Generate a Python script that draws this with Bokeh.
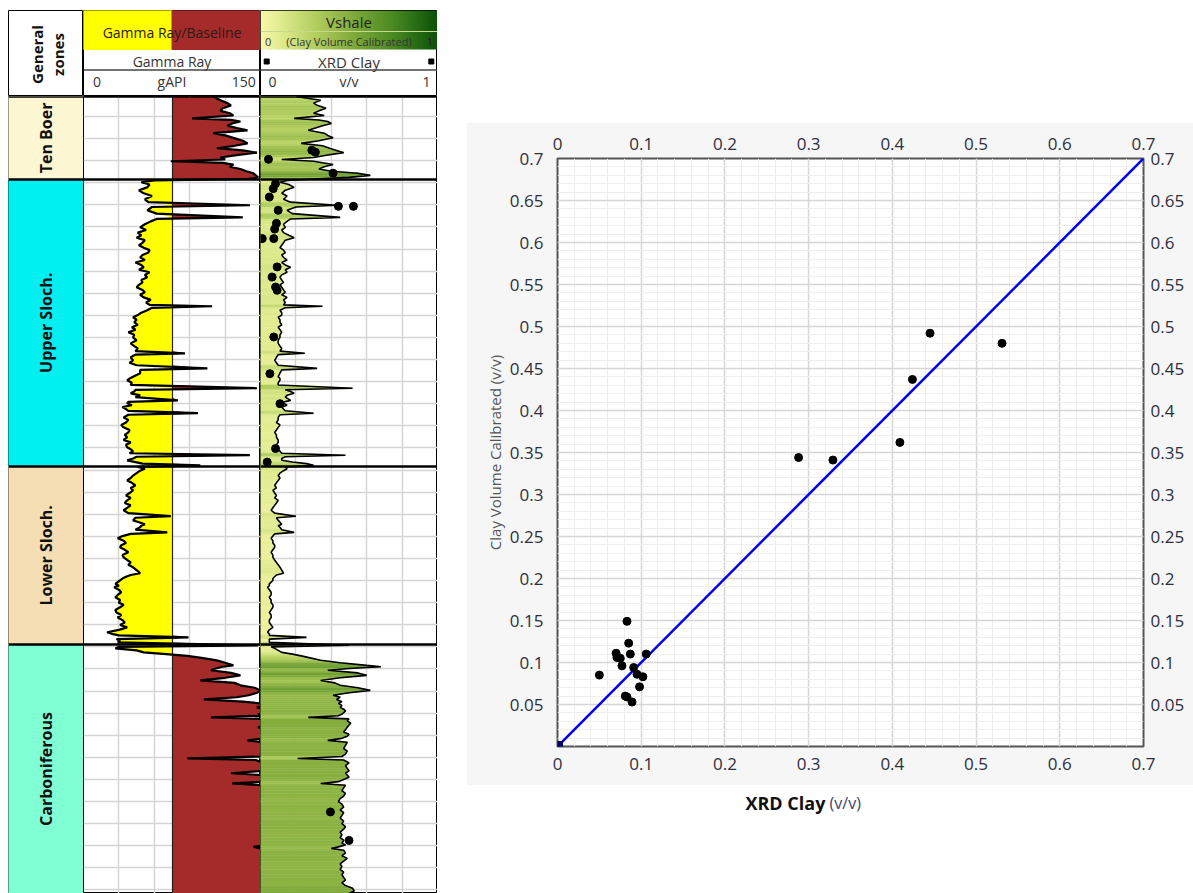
import numpy as np
from bokeh.plotting import figure
from bokeh.layouts import row, column
from bokeh.models import FixedTicker, CustomJSTickFormatter, LinearAxis, Range1d, Spacer, LinearColorMapper
from bokeh.core.properties import value
from bokeh.embed import file_html
from bokeh.resources import INLINE

FONT = "Open Sans"

# ---------------- data ----------------
ZONE_NAMES = ["Ten Boer", "Upper Sloch.", "Lower Sloch.", "Carboniferous"]
ZONE_TOPS = [3001.0, 3038.5, 3168.3, 3248.9]
ZONE_BASES = [3038.5, 3168.3, 3248.9, 3361.6]
ZONE_COLORS = ["#fdf6d2", "#00eff0", "#f5deb3", "#80ffd4"]

GR_MIN, GR_MAX, GR_BASELINE = 0, 150, 75
GR_GRID = [30, 60, 90, 120]
VSH_GRID = [0.2, 0.4, 0.6, 0.8]
DEPTH_GRID = list(range(3010, 3361, 10))

DEPTH = [
    3001.0, 3002.7, 3004.0, 3005.0, 3006.3, 3007.5, 3008.6, 3009.6, 3010.9, 3011.6,
    3012.3, 3013.2, 3014.2, 3015.3, 3016.3, 3017.6, 3018.6, 3019.7, 3021.0, 3022.2,
    3023.3, 3024.4, 3025.4, 3026.4, 3027.5, 3028.6, 3029.5, 3030.3, 3031.0, 3031.8,
    3032.8, 3033.8, 3034.8, 3035.7, 3036.7, 3037.6, 3038.3, 3039.0,
    3039.8, 3040.8, 3042.1, 3043.4, 3044.8, 3046.0, 3047.5, 3048.8, 3050.2, 3051.0,
    3052.5, 3054.0, 3055.7, 3056.4, 3057.5, 3058.8, 3060.2, 3061.4, 3062.6, 3063.8,
    3064.9, 3066.0, 3067.2, 3068.3, 3069.4, 3070.5, 3071.6, 3072.7, 3073.8, 3075.0,
    3076.1, 3077.2, 3078.3, 3079.4, 3080.5, 3081.7, 3082.8, 3084.0, 3085.1, 3086.2,
    3087.3, 3088.5, 3089.6, 3090.7, 3091.9, 3093.0, 3094.2, 3095.3, 3095.9, 3096.6,
    3097.7, 3098.8, 3099.9, 3100.9, 3102.0, 3103.1, 3104.3, 3105.4, 3106.5, 3107.7,
    3108.8, 3110.0, 3111.3, 3112.7, 3113.9, 3115.0, 3116.2, 3117.2, 3117.8, 3119.0,
    3120.4, 3121.5, 3122.6, 3124.0, 3124.7, 3126.2, 3127.8, 3128.6, 3129.4, 3130.5,
    3131.5, 3133.0, 3133.7, 3134.5, 3135.3, 3136.2, 3137.0, 3138.5, 3139.2, 3139.8,
    3140.7, 3141.5, 3142.4, 3143.2, 3144.3, 3145.0, 3146.2, 3147.3, 3148.5, 3149.6,
    3150.7, 3151.9, 3153.0, 3154.1, 3155.2, 3156.4, 3157.5, 3158.6, 3159.7, 3160.6,
    3161.5, 3162.4, 3163.3, 3164.0, 3164.8, 3165.6, 3166.4, 3167.1, 3167.9, 3168.6,
    3169.4, 3170.3, 3171.4, 3172.5, 3173.6, 3174.7, 3175.8, 3177.0, 3178.1, 3179.2,
    3180.4, 3181.5, 3182.6, 3183.7, 3184.9, 3186.0, 3187.1, 3188.2, 3189.5, 3190.9,
    3191.6, 3192.8, 3193.6, 3194.5, 3195.2, 3195.9, 3197.0, 3198.2, 3198.9, 3199.9,
    3200.9, 3202.0, 3203.0, 3204.0, 3205.0, 3206.1, 3207.2, 3208.4, 3209.5, 3210.7,
    3211.8, 3212.9, 3214.0, 3215.3, 3216.7, 3217.5, 3218.3, 3219.1, 3219.9, 3220.7,
    3221.5, 3222.3, 3223.1, 3224.2, 3225.3, 3226.5, 3227.6, 3228.8, 3230.0, 3231.0,
    3232.1, 3233.3, 3234.5, 3235.6, 3236.7, 3237.9, 3239.0, 3240.1, 3241.2, 3242.3,
    3243.4, 3244.1, 3244.8, 3245.7, 3246.5, 3247.3, 3248.0, 3249.3, 3250.0, 3250.7,
    3251.6, 3252.5, 3253.3,
    3254.1, 3255.0, 3256.1, 3257.2, 3258.4, 3259.0, 3259.8, 3260.6, 3261.8, 3262.9,
    3264.0, 3265.2, 3266.3, 3267.4, 3268.5, 3269.7, 3270.8, 3271.9, 3272.8, 3273.8,
    3274.8, 3275.6, 3276.5, 3277.4, 3278.2, 3279.0, 3279.8, 3280.5, 3281.2, 3281.9,
    3282.6, 3283.5, 3284.5, 3285.4, 3286.4, 3287.5, 3288.5, 3289.5, 3290.5, 3291.4,
    3292.3, 3293.2, 3294.6, 3296.0, 3297.2, 3298.5, 3299.6, 3300.5, 3301.2, 3302.5,
    3303.7, 3305.0, 3306.1, 3307.2, 3308.0, 3309.0, 3310.0, 3311.0, 3311.8, 3312.6,
    3313.8, 3315.0, 3316.3, 3317.5, 3318.7, 3320.0, 3321.2, 3322.5, 3323.8, 3325.0,
    3326.3, 3327.5, 3328.8, 3330.0, 3331.3, 3332.5, 3333.8, 3335.0, 3336.3, 3337.5,
    3338.9, 3339.6, 3340.5, 3341.2, 3342.0, 3343.3, 3344.5, 3345.7, 3347.0, 3348.2,
    3349.4, 3350.7, 3351.9, 3353.1, 3354.3, 3355.5, 3356.8, 3358.0, 3359.2, 3360.4,
    3361.6,
]

GR = [
    110, 116, 122, 125, 118, 116, 124, 127, 92, 125,
    133, 126, 122, 130, 139, 110, 120, 127, 135, 139,
    128, 113, 135, 147, 130, 116, 120, 74, 118, 127,
    124, 133, 138, 144, 146, 148, 140, 60,
    49, 56, 54, 47, 51, 58, 52, 55, 141, 58,
    54, 62, 135, 62, 57, 52, 48, 53, 46, 49,
    45, 52, 50, 47, 51, 56, 55, 50, 48, 52,
    44, 49, 51, 47, 56, 52, 54, 49, 50, 47,
    45, 50, 52, 48, 51, 57, 53, 56, 109, 58,
    54, 49, 46, 42, 45, 43, 46, 41, 44, 38,
    43, 42, 45, 40, 43, 46, 44, 86, 44, 40,
    42, 39, 45, 105, 48, 48, 42, 39, 37, 41,
    40, 147, 44, 43, 40, 48, 44, 80, 38, 37,
    41, 33, 36, 38, 97, 38, 34, 38, 36, 32,
    34, 39, 38, 35, 37, 34, 40, 36, 37, 40,
    42, 39, 141, 45, 42, 37, 44, 50, 99, 46,
    52, 48, 45, 42, 40, 37, 41, 44, 40, 42,
    39, 36, 40, 37, 35, 40, 37, 34, 38, 74,
    44, 42, 47, 52, 49, 48, 44, 71, 40, 33,
    29, 34, 36, 32, 31, 35, 38, 33, 34, 37,
    40, 38, 42, 45, 48, 40, 36, 33, 31, 29,
    27, 30, 26, 30, 32, 29, 27, 31, 30, 34,
    31, 27, 28, 32, 29, 33, 35, 31, 37, 30,
    20, 24, 30, 89, 28, 31, 29, 148, 30, 27,
    45, 51, 70,
    88, 100, 113, 120, 127, 118, 112, 108, 125, 133,
    120, 99, 128, 133, 145, 150, 147, 140, 130, 102,
    135, 150, 152, 147, 153, 150, 152, 148, 151, 108,
    150, 153, 152, 155, 148, 153, 152, 154, 150, 153,
    139, 152, 155, 154, 152, 150, 153, 88, 146, 152,
    155, 154, 152, 125, 150, 153, 152, 154, 126, 152,
    155, 155, 153, 156, 153, 155, 156, 154, 155, 154,
    156, 155, 153, 155, 156, 154, 156, 155, 153, 156,
    152, 155, 144, 150, 154, 156, 155, 156, 154, 155,
    156, 154, 155, 156, 154, 155, 156, 154, 155, 156,
    155,
]

VSH = [
    0.20, 0.34, 0.30, 0.32, 0.37, 0.33, 0.30, 0.36, 0.19, 0.33,
    0.38, 0.40, 0.35, 0.31, 0.27, 0.36, 0.38, 0.41, 0.33, 0.23,
    0.35, 0.39, 0.43, 0.47, 0.38, 0.30, 0.12, 0.30, 0.35, 0.41,
    0.36, 0.33, 0.40, 0.55, 0.62, 0.50, 0.30, 0.15,
    0.11, 0.16, 0.19, 0.14, 0.12, 0.15, 0.13, 0.17, 0.43, 0.20,
    0.15, 0.18, 0.45, 0.17, 0.15, 0.13, 0.14, 0.12, 0.13, 0.16,
    0.19, 0.14, 0.13, 0.12, 0.11, 0.13, 0.14, 0.12, 0.13, 0.15,
    0.12, 0.14, 0.17, 0.14, 0.15, 0.12, 0.11, 0.12, 0.13, 0.11,
    0.12, 0.13, 0.14, 0.12, 0.15, 0.13, 0.14, 0.13, 0.35, 0.14,
    0.11, 0.12, 0.12, 0.10, 0.11, 0.11, 0.12, 0.10, 0.11, 0.12,
    0.11, 0.11, 0.10, 0.10, 0.11, 0.12, 0.11, 0.25, 0.10, 0.09,
    0.08, 0.09, 0.10, 0.32, 0.12, 0.11, 0.10, 0.11, 0.11, 0.10,
    0.10, 0.52, 0.14, 0.17, 0.19, 0.15, 0.14, 0.17, 0.13, 0.13,
    0.15, 0.12, 0.13, 0.14, 0.30, 0.11, 0.10, 0.10, 0.09, 0.11,
    0.10, 0.09, 0.08, 0.09, 0.09, 0.10, 0.10, 0.09, 0.09, 0.10,
    0.11, 0.12, 0.48, 0.14, 0.12, 0.12, 0.18, 0.26, 0.30, 0.14,
    0.15, 0.13, 0.11, 0.10, 0.11, 0.10, 0.09, 0.08, 0.09, 0.07,
    0.08, 0.09, 0.08, 0.10, 0.09, 0.08, 0.07, 0.06, 0.08, 0.20,
    0.09, 0.10, 0.11, 0.12, 0.10, 0.11, 0.12, 0.19, 0.08, 0.07,
    0.06, 0.07, 0.07, 0.08, 0.08, 0.07, 0.06, 0.07, 0.07, 0.08,
    0.09, 0.10, 0.11, 0.12, 0.13, 0.09, 0.08, 0.07, 0.07, 0.06,
    0.05, 0.05, 0.04, 0.05, 0.06, 0.06, 0.05, 0.06, 0.06, 0.07,
    0.07, 0.06, 0.05, 0.06, 0.06, 0.05, 0.05, 0.06, 0.07, 0.05,
    0.04, 0.05, 0.05, 0.26, 0.05, 0.05, 0.05, 0.50, 0.06, 0.08,
    0.10, 0.12, 0.18,
    0.23, 0.28, 0.34, 0.45, 0.60, 0.68, 0.50, 0.38, 0.55, 0.60,
    0.45, 0.34, 0.42, 0.45, 0.55, 0.62, 0.50, 0.41, 0.45, 0.43,
    0.46, 0.44, 0.46, 0.45, 0.47, 0.48, 0.47, 0.46, 0.44, 0.27,
    0.50, 0.49, 0.51, 0.50, 0.49, 0.48, 0.47, 0.50, 0.49, 0.46,
    0.38, 0.49, 0.48, 0.47, 0.49, 0.48, 0.46, 0.21, 0.47, 0.50,
    0.48, 0.49, 0.50, 0.48, 0.49, 0.50, 0.47, 0.44, 0.34, 0.48,
    0.47, 0.46, 0.48, 0.47, 0.45, 0.44, 0.46, 0.47, 0.45, 0.47,
    0.46, 0.45, 0.47, 0.46, 0.48, 0.47, 0.45, 0.46, 0.45, 0.47,
    0.46, 0.48, 0.44, 0.40, 0.47, 0.48, 0.46, 0.49, 0.47, 0.45,
    0.46, 0.45, 0.47, 0.46, 0.47, 0.48, 0.46, 0.48, 0.52, 0.53,
    0.50,
]

XRD_LOG_DEPTH = [3025.3, 3026.2, 3029.4, 3035.7, 3040.4, 3042.7, 3046.5, 3050.7, 3050.7,
                 3052.5, 3058.4, 3061.0, 3065.3, 3065.3, 3078.1, 3082.7, 3087.2, 3088.7,
                 3109.8, 3126.4, 3140.0, 3160.3, 3166.4, 3324.7, 3337.6]
XRD_LOG_VALUE = [0.29, 0.31, 0.045, 0.41, 0.085, 0.072, 0.05, 0.44, 0.525,
                 0.10, 0.09, 0.08, 0.01, 0.075, 0.094, 0.066, 0.085, 0.094,
                 0.075, 0.053, 0.11, 0.085, 0.038, 0.395, 0.50]

# crossplot
XRD_CLAY = [0.050, 0.070, 0.071, 0.075, 0.077, 0.081, 0.083, 0.083, 0.085, 0.087, 0.089,
            0.091, 0.095, 0.098, 0.102, 0.106, 0.288, 0.329, 0.409, 0.424, 0.445, 0.531]
CLAY_VOL_CAL = [0.085, 0.111, 0.106, 0.105, 0.096, 0.060, 0.149, 0.059, 0.123, 0.110, 0.053,
                0.094, 0.086, 0.071, 0.083, 0.110, 0.344, 0.341, 0.362, 0.437, 0.492, 0.480]
ONE_TO_ONE = [0.0, 0.7]
XP_TICKS_X = [0, 0.1, 0.2, 0.3, 0.4, 0.5, 0.6, 0.7]
XP_TICKS_Y = [0.05, 0.1, 0.15, 0.2, 0.25, 0.3, 0.35, 0.4, 0.45, 0.5, 0.55, 0.6, 0.65, 0.7]
XP_MINOR_X = [round(0.02 * i, 2) for i in range(36)]
XP_MINOR_Y = [round(0.01 * i, 2) for i in range(71)]

# ---------------- colours ----------------
_stops = [(0.0, (248, 248, 168)), (0.12, (223, 235, 142)), (0.3, (181, 208, 98)),
          (0.5, (134, 174, 62)), (0.75, (74, 138, 34)), (1.0, (10, 82, 10))]
_pos = [s[0] for s in _stops]
_t = np.linspace(0, 1, 256)
_ch = [np.interp(_t, _pos, [s[1][k] for s in _stops]) for k in range(3)]
PALETTE = ["#%02x%02x%02x" % (int(r), int(g), int(b)) for r, g, b in zip(*_ch)]


def txt(p, x, y, s, size, align="center", color="#333333", style="normal", angle=0.0):
    p.text(x=[x], y=[y], text=[s], text_align=align, text_baseline="middle",
           text_font=value(FONT), text_font_size=size, text_color=color,
           text_font_style=style, angle=angle)


def base_fig(w, h, xr, yr):
    f = figure(width=w, height=h, x_range=xr, y_range=yr, x_axis_location=None,
               y_axis_location=None, toolbar_location=None, output_backend="svg",
               min_border=0, title=None, outline_line_color="black", outline_line_width=1,
               background_fill_color="white", border_fill_color="white")
    return f


HDR_H, LOG_H = 86, 797
W_ZONE, W_TRACK = 75, 177
depth_range = Range1d(ZONE_BASES[-1], ZONE_TOPS[0])
hdr_range = Range1d(HDR_H, 0)

d = np.array(DEPTH)
gr = np.array(GR, dtype=float)
vsh = np.array(VSH)

# ---------------- headers ----------------
hz = base_fig(W_ZONE, HDR_H, Range1d(0, 1), hdr_range)
hz.grid.visible = False
txt(hz, 0.38, 44, "General", "15px", color="#111111", style="bold", angle=np.pi / 2)
txt(hz, 0.66, 44, "zones", "15px", color="#111111", style="bold", angle=np.pi / 2)

hg = base_fig(W_TRACK, HDR_H, Range1d(GR_MIN, GR_MAX), hdr_range)
hg.grid.visible = False
hg.quad(left=[GR_MIN], right=[GR_BASELINE], top=[0], bottom=[39], color="#ffff00")
hg.quad(left=[GR_BASELINE], right=[GR_MAX], top=[0], bottom=[39], color="#a52a2a")
txt(hg, 75, 22, "Gamma Ray/Baseline", "14px", color="#2a1a1a")
txt(hg, 75, 51, "Gamma Ray", "14px")
hg.segment(x0=[GR_MIN], x1=[GR_MAX], y0=[59.5], y1=[59.5], line_color="#444444", line_width=1.5)
txt(hg, 8, 71, "0", "14px", align="left")
txt(hg, 75, 71, "gAPI", "14px")
txt(hg, 146, 71, "150", "14px", align="right")

hv = base_fig(W_TRACK, HDR_H, Range1d(0, 1), hdr_range)
hv.grid.visible = False
hv.image(image=[np.linspace(0, 1, 256).reshape(1, -1)], x=0, y=0, dw=1, dh=39,
         color_mapper=LinearColorMapper(palette=PALETTE, low=0, high=1))
hv.segment(x0=[0], x1=[1], y0=[21], y1=[21], line_color="#c8d890", line_width=1)
txt(hv, 0.5, 11, "Vshale", "15px", color="#222222")
txt(hv, 0.025, 31, "0", "11px", align="left", color="#333333")
txt(hv, 0.5, 31, "(Clay Volume Calibrated)", "11px", color="#333333")
txt(hv, 0.975, 31, "1", "11px", align="right", color="#222222")
hv.scatter(x=[0.035, 0.965], y=[51, 51], marker="square", size=5, color="black")
txt(hv, 0.5, 51, "XRD Clay", "15px")
hv.segment(x0=[0], x1=[1], y0=[59.5], y1=[59.5], line_color="#444444", line_width=1.5)
txt(hv, 0.045, 71, "0", "14px", align="left")
txt(hv, 0.5, 71, "v/v", "14px")
txt(hv, 0.96, 71, "1", "14px", align="right")

# ---------------- log tracks ----------------
lz = base_fig(W_ZONE, LOG_H, Range1d(0, 1), depth_range)
lz.grid.visible = False
lz.quad(left=0, right=1, top=ZONE_TOPS, bottom=ZONE_BASES, color=ZONE_COLORS)
for name, t, b in zip(ZONE_NAMES, ZONE_TOPS, ZONE_BASES):
    txt(lz, 0.5, (t + b) / 2, name, "16px", color="#111111", style="bold", angle=np.pi / 2)

lg = base_fig(W_TRACK, LOG_H, Range1d(GR_MIN, GR_MAX), depth_range)
lg.xgrid.ticker = FixedTicker(ticks=GR_GRID)
lg.ygrid.ticker = FixedTicker(ticks=DEPTH_GRID)
lg.grid.grid_line_color = "#d4d4d4"
lg.grid.grid_line_width = 1.5
base = np.full(len(d), GR_BASELINE, dtype=float)
lg.harea(x1=np.minimum(gr, GR_BASELINE), x2=base, y=d, fill_color="#ffff00")
lg.harea(x1=base, x2=np.maximum(gr, GR_BASELINE), y=d, fill_color="#a52a2a")
lg.vspan(x=[GR_BASELINE], line_color="#222222", line_width=1.2)
lg.line(gr, d, line_color="black", line_width=2.2)

lv = base_fig(W_TRACK, LOG_H, Range1d(0, 1), depth_range)
lv.xgrid.ticker = FixedTicker(ticks=VSH_GRID)
lv.ygrid.ticker = FixedTicker(ticks=DEPTH_GRID)
lv.grid.grid_line_color = "#d4d4d4"
lv.grid.grid_line_width = 1.5
xs, ys, cols = [], [], []
for i in range(len(d) - 1):
    xs.append([0, vsh[i], vsh[i + 1], 0])
    ys.append([d[i], d[i], d[i + 1], d[i + 1]])
    cols.append(PALETTE[int(round((vsh[i] + vsh[i + 1]) / 2 * 255))])
lv.patches(xs, ys, fill_color=cols, line_color=cols, line_width=0.5)
lv.line(vsh, d, line_color="black", line_width=1.6)
lv.scatter(XRD_LOG_VALUE, XRD_LOG_DEPTH, size=8, color="black")

for f in (lz, lg, lv):
    f.hspan(y=ZONE_TOPS, line_color="black", line_width=2.5)

left_col = column(
    Spacer(width=437, height=10),
    row(Spacer(width=8, height=HDR_H), hz, hg, hv),
    row(Spacer(width=8, height=LOG_H), lz, lg, lv),
)

# ---------------- crossplot ----------------
fmt = CustomJSTickFormatter(code="var s = tick.toFixed(2); s = s.replace(/0+$/, ''); return s.replace(/\\.$/, '');")
xp = figure(width=727, height=663, x_range=Range1d(0, 0.7), y_range=Range1d(0, 0.7),
            toolbar_location=None, output_backend="svg", title=None,
            min_border_left=91, min_border_right=50, min_border_top=36, min_border_bottom=39,
            background_fill_color="white", border_fill_color="#f6f6f6",
            outline_line_color="#555555", outline_line_width=2)
xp.add_layout(LinearAxis(), "above")
xp.add_layout(LinearAxis(), "right")
tx = FixedTicker(ticks=XP_TICKS_X, minor_ticks=XP_MINOR_X)
ty = FixedTicker(ticks=XP_TICKS_Y, minor_ticks=XP_MINOR_Y)
for ax in xp.xaxis:
    ax.ticker = tx
for ax in xp.yaxis:
    ax.ticker = ty
for ax in xp.axis:
    ax.formatter = fmt
    ax.axis_line_color = None
    ax.major_tick_line_color = None
    ax.minor_tick_line_color = None
    ax.major_tick_out = 0
    ax.minor_tick_out = 0
    ax.major_label_text_font = FONT
    ax.major_label_text_font_size = "17px"
    ax.major_label_text_color = "#2e2e3c"
xp.below[0].major_label_standoff = 11
xp.above[0].major_label_standoff = 9
xp.left[0].major_label_standoff = 14
xp.right[0].major_label_standoff = 7
xp.left[0].axis_label = "Clay Volume Calibrated (v/v)"
xp.left[0].axis_label_text_font = FONT
xp.left[0].axis_label_text_font_size = "15px"
xp.left[0].axis_label_text_font_style = "normal"
xp.left[0].axis_label_text_color = "#555555"
xp.left[0].axis_label_standoff = 2
xp.xgrid.ticker = tx
xp.ygrid.ticker = ty
xp.grid.grid_line_color = "#d6d6d6"
xp.grid.grid_line_width = 1.5
xp.grid.minor_grid_line_color = "#eeeeee"
xp.grid.minor_grid_line_width = 1

xp.line(ONE_TO_ONE, ONE_TO_ONE, line_color="#0000ee", line_width=2.5)
xp.scatter(x=[0], y=[0], marker="square", size=10, color="#000066")
xp.scatter(XRD_CLAY, CLAY_VOL_CAL, size=8, color="black")

tf = figure(width=727, height=108, x_range=Range1d(0, 0.7), y_range=Range1d(0, 108),
            x_axis_location=None, y_axis_location=None, toolbar_location=None,
            output_backend="svg", title=None, min_border_left=91, min_border_right=50,
            min_border_top=0, min_border_bottom=0, outline_line_color=None,
            background_fill_color="white", border_fill_color="white")
tf.grid.visible = False
txt(tf, 0.320, 91, "XRD Clay", "18px", align="right", color="#111111", style="bold")
txt(tf, 0.325, 91, "(v/v)", "16px", align="left", color="#3d4466")

right_col = column(Spacer(width=727, height=122), xp, tf)

layout = row(left_col, Spacer(width=29, height=893), right_col)

open("out.html", "w").write(file_html(layout, INLINE))
